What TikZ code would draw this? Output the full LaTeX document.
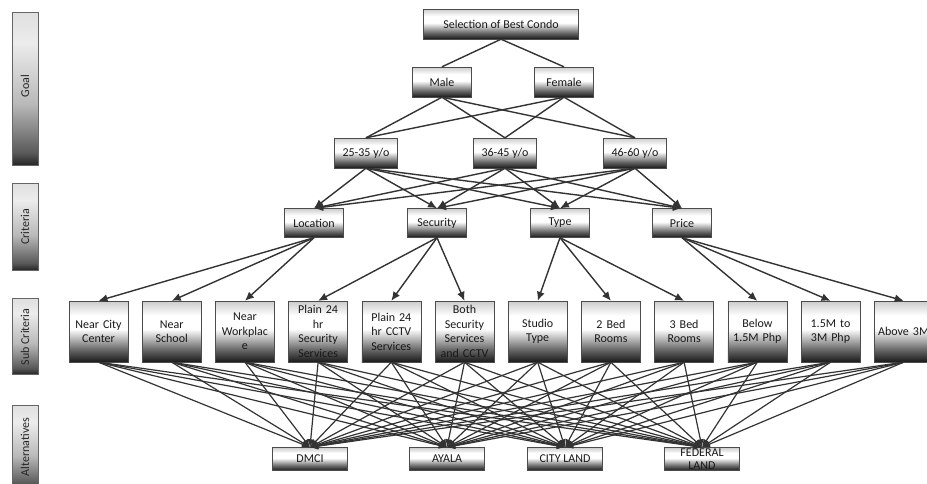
\documentclass[tikz,border=0pt]{standalone}
\usepackage{fontspec}
\setmainfont{Carlito}
\usetikzlibrary{arrows.meta}

\pgfdeclareverticalshading{boxfade}{100bp}{color(0bp)=(black!90); color(25bp)=(black!90); color(35bp)=(black!60); color(52bp)=(white); color(63bp)=(white); color(75bp)=(gray!40); color(100bp)=(gray!40)}
\pgfdeclareverticalshading{barfade}{100bp}{color(0bp)=(black!85); color(25bp)=(black!85); color(29bp)=(black!65); color(45bp)=(gray!55); color(65bp)=(gray!15); color(75bp)=(gray!25); color(100bp)=(gray!25)}

\tikzset{
  box/.style={draw=black!70, shading=boxfade, minimum width=59pt, minimum height=30pt,
    inner sep=1pt, align=center, text=black!90, font=\fontsize{12}{14.5}\selectfont},
  subbox/.style={box, minimum height=61pt, text width=55pt},
  altbox/.style={box, minimum width=75pt, minimum height=23pt, inner sep=0pt,
    font=\fontsize{12}{13}\selectfont},
  bar/.style={draw=black!60, shading=barfade},
  barlabel/.style={rotate=90, text=black!85, font=\fontsize{12}{14}\selectfont},
  link/.style={draw=black!80, line width=1.4pt},
  arr/.style={link, -{Latex[length=9pt,width=8pt]}},
  arrsmall/.style={link, line width=1.2pt, -{Latex[length=8pt,width=7pt]}},
}

\begin{document}
\begin{tikzpicture}[x=1pt,y=-1pt]
    \useasboundingbox (0,0) rectangle (927,483);

    % Levels
    \path[bar] (12,12) rectangle (38,165);
    \path[bar] (12,183) rectangle (38,270);
    \path[bar] (12,298) rectangle (38,374);
    \path[bar] (12,405) rectangle (38,490);
    \node[barlabel] (lgoal) at (25,86) {Goal};
    \node[barlabel] (lcrit) at (25,227) {Criteria};
    \node[barlabel] (lsub) at (25,337) {Sub Criteria};
    \node[barlabel] (lalt) at (25,447) {Alternatives};

    % Goal
    \node[box, minimum width=155pt] (goal) at (501,24) {Selection of Best Condo};
    \node[box] (male) at (442,82) {Male};
    \node[box] (female) at (564,82) {Female};
    \node[box, minimum width=63pt] (age1) at (366,153) {25-35 y/o};
    \node[box, minimum width=63pt] (age2) at (505,153) {36-45 y/o};
    \node[box, minimum width=63pt] (age3) at (635,153) {46-60 y/o};

    % Criteria
    \node[box, minimum height=29pt] (loc) at (314,223) {Location};
    \node[box, minimum height=29pt] (sec) at (437,223) {Security};
    \node[box, minimum height=29pt] (typ) at (560,223) {Type};
    \node[box, minimum height=29pt] (price) at (682,223) {Price};

    % Sub criteria
    \foreach \t [count=\i] in {{Near City\\Center}, {Near\\School}, {Near\\Workplac\\e},
        {Plain 24\\hr\\Security\\Services}, {Plain 24\\hr CCTV\\Services},
        {Both\\Security\\Services\\and CCTV}, {Studio\\Type}, {2 Bed\\Rooms},
        {3 Bed\\Rooms}, {Below\\1.5M Php}, {1.5M to\\3M Php}, {Above 3M}} {
        \node[subbox] (s\i) at ({98.5+73.2*(\i-1)},331.5) {\t};
    }

    % Alternatives
    \node[altbox] (alt1) at (310,459) {DMCI};
    \node[altbox] (alt2) at (447,459) {AYALA};
    \node[altbox] (alt3) at (565,459) {CITY LAND};
    \node[altbox] (alt4) at (702,459) {FEDERAL\\LAND};

    % Links
    \foreach \g in {male,female} {
        \draw[link] (goal.south) -- (\g.north);
        \foreach \a in {age1,age2,age3}
            \draw[link] (\g.south) -- (\a.north);
    }
    \foreach \a in {age1,age2,age3}
        \foreach \c in {loc,sec,typ,price}
            \draw[arr] (\a.south) -- (\c.north);
    \foreach \c/\s in {loc/1,loc/2,loc/3,sec/4,sec/5,sec/6,
        typ/7,typ/8,typ/9,price/10,price/11,price/12}
        \draw[arr] (\c.south) -- (s\s.north);
    \foreach \s in {1,...,12}
        \foreach \a in {1,...,4}
            \draw[arrsmall] (s\s.south) -- (alt\a.north);

\end{tikzpicture}
\end{document}
